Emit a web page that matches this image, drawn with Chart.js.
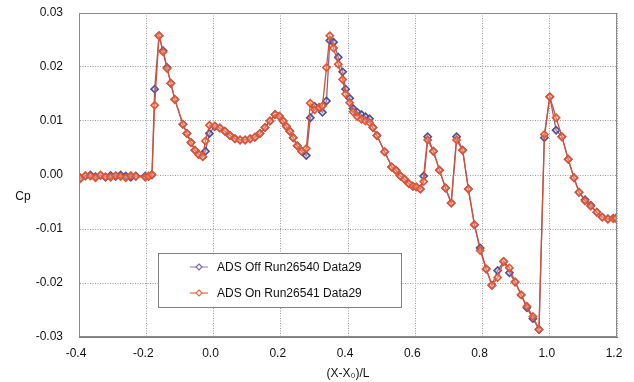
<!DOCTYPE html>
<html>
<head>
<meta charset="utf-8">
<script src="https://cdn.jsdelivr.net/npm/chart.js@4.4.1/dist/chart.umd.min.js"></script>
<style>
html,body{margin:0;padding:0;background:#fff;}
#wrap{width:634px;height:382px;position:relative;}
</style>
</head>
<body>
<div id="wrap"><canvas id="c" width="634" height="382"></canvas></div>
<script>
const xPos = [-0.396,-0.381,-0.366,-0.351,-0.336,-0.321,-0.306,-0.291,-0.276,-0.261,-0.246,-0.231,-0.203,-0.193,-0.183,
 -0.175,-0.162,-0.150,-0.138,-0.127,-0.115,-0.091,-0.079,-0.067,-0.055,-0.044,-0.032,-0.024,-0.012,
 0.004,0.019,0.034,0.049,0.064,0.079,0.094,0.109,0.123,0.138,0.153,0.168,0.183,0.196,0.207,0.217,0.227,0.237,0.249,0.262,
 0.276,0.288,0.301,0.314,0.324,0.336,0.346,0.357,0.371,0.384,0.393,0.405,0.415,0.428,0.440,0.452,0.464,0.474,0.486,0.509,0.530,0.543,
 0.556,0.568,0.581,0.593,0.603,0.615,0.625,0.637,0.654,0.672,0.690,0.707,0.723,0.741,0.758,0.776,0.793,0.811,0.828,0.845,0.863,0.880,0.897,0.915,0.932,0.950,0.968,
 0.984,1.000,1.019,1.036,1.055,1.072,1.087,1.105,1.122,1.140,1.156,1.173,1.189,1.197];

const cpOff = [-0.0005,-0.0002,0.0000,-0.0003,-0.0001,-0.0004,-0.0001,-0.0003,0.0000,-0.0002,-0.0004,-0.0002,-0.0002,-0.0003,0.0000,
 0.0159,0.0258,0.0230,0.0199,0.0170,0.0140,0.0094,0.0077,0.0060,0.0046,0.0038,0.0034,0.0044,0.0077,
 0.0090,0.0087,0.0081,0.0073,0.0067,0.0065,0.0065,0.0067,0.0070,0.0077,0.0088,0.0100,0.0112,0.0109,0.0100,0.0090,0.0081,0.0069,0.0054,0.0044,
 0.0036,0.0106,0.0127,0.0125,0.0116,0.0137,0.0249,0.0246,0.0218,0.0191,0.0159,0.0142,0.0123,0.0116,0.0112,0.0108,0.0104,0.0088,0.0073,0.0043,0.0015,0.0009,
 -0.0002,-0.0008,-0.0016,-0.0021,-0.0022,-0.0026,-0.0002,0.0071,0.0044,0.0009,-0.0024,-0.0052,0.0071,0.0046,-0.0026,-0.0092,-0.0135,-0.0174,-0.0204,-0.0177,-0.0160,-0.0181,-0.0198,-0.0222,-0.0246,-0.0266,-0.0286,
 0.0069,0.0145,0.0083,0.0071,0.0029,-0.0005,-0.0032,-0.0046,-0.0056,-0.0069,-0.0078,-0.0081,-0.0080,-0.0080];

const cpOn = [-0.0007,-0.0001,-0.0002,-0.0005,0.0000,-0.0003,-0.0004,-0.0001,-0.0003,-0.0005,-0.0001,-0.0003,-0.0004,-0.0002,0.0001,
 0.0129,0.0258,0.0228,0.0197,0.0170,0.0140,0.0094,0.0077,0.0060,0.0046,0.0038,0.0034,0.0063,0.0092,
 0.0091,0.0087,0.0081,0.0073,0.0067,0.0065,0.0065,0.0067,0.0070,0.0077,0.0088,0.0100,0.0112,0.0109,0.0100,0.0090,0.0081,0.0069,0.0054,0.0044,
 0.0049,0.0133,0.0121,0.0125,0.0128,0.0199,0.0258,0.0235,0.0205,0.0177,0.0150,0.0134,0.0117,0.0108,0.0103,0.0100,0.0097,0.0088,0.0073,0.0043,0.0015,0.0008,
 -0.0002,-0.0008,-0.0016,-0.0021,-0.0022,-0.0026,-0.0012,0.0065,0.0044,0.0009,-0.0024,-0.0052,0.0065,0.0046,-0.0026,-0.0092,-0.0140,-0.0174,-0.0204,-0.0190,-0.0160,-0.0172,-0.0198,-0.0222,-0.0243,-0.0262,-0.0286,
 0.0075,0.0145,0.0106,0.0071,0.0029,-0.0005,-0.0032,-0.0048,-0.0058,-0.0069,-0.0078,-0.0082,-0.0081,-0.0080];

const seriesNames = ['ADS Off Run26540 Data29', 'ADS On Run26541 Data29'];
const xTickValues = [-0.4,-0.2,0.0,0.2,0.4,0.6,0.8,1.0,1.2];
const yTickValues = [-0.03,-0.02,-0.01,0.00,0.01,0.02,0.03];
const xTitle = '(X-X\u2080)/L';
const yTitle = 'Cp';

const FONT = '"Liberation Sans", Arial, "DejaVu Sans", sans-serif';
const offLine = '#9a5f7a', offMark = '#4f4f92';
const onLine = '#d4503a', onMark = '#e2552f';
const legOffLine = '#a58ab5', legOnLine = '#ee6a45';

function pts(ys){ return xPos.map((x,i)=>({x:x,y:ys[i]})); }

const frame = {
  id:'frame',
  afterDatasetsDraw(chart){
    const {ctx, chartArea:a} = chart;
    ctx.save();
    ctx.strokeStyle = '#8a8a8a';
    ctx.lineWidth = 1;
    ctx.strokeRect(Math.round(a.left)+0.5, Math.round(a.top)+0.5, Math.round(a.right-a.left)-1, Math.round(a.bottom-a.top)-1);
    ctx.restore();
  },
  afterDraw(chart){
    const ctx = chart.ctx;
    ctx.save();
    ctx.fillStyle = '#111';
    ctx.font = '12px ' + FONT;
    ctx.textAlign = 'center';
    ctx.textBaseline = 'middle';
    ctx.fillText(yTitle, 23, 197);
    const bx=158, by=253, bw=243, bh=54;
    ctx.fillStyle = '#fff';
    ctx.fillRect(bx, by, bw, bh);
    ctx.strokeStyle = '#808080';
    ctx.lineWidth = 1;
    ctx.strokeRect(bx+0.5, by+0.5, bw, bh);
    const rows = [{y:267, line:legOffLine, mark:'#7a6aa6'},{y:293, line:legOnLine, mark:'#ee6a45'}];
    rows.forEach((r,i)=>{
      ctx.strokeStyle = r.line;
      ctx.lineWidth = 1.2;
      ctx.beginPath(); ctx.moveTo(190, r.y); ctx.lineTo(208, r.y); ctx.stroke();
      ctx.strokeStyle = r.mark;
      ctx.fillStyle = '#fff';
      ctx.lineWidth = 1.2;
      ctx.beginPath();
      ctx.moveTo(199, r.y-3); ctx.lineTo(202, r.y); ctx.lineTo(199, r.y+3); ctx.lineTo(196, r.y); ctx.closePath();
      ctx.fill(); ctx.stroke();
      ctx.fillStyle = '#111';
      ctx.font = '12px ' + FONT;
      ctx.textAlign = 'left';
      ctx.textBaseline = 'middle';
      ctx.fillText(seriesNames[i], 217, r.y+0.5);
    });
    ctx.restore();
  }
};

new Chart(document.getElementById('c'), {
  type: 'scatter',
  data: {
    datasets: [
      { label: seriesNames[1], data: pts(cpOn), showLine: true,
        borderColor: onLine, borderWidth: 1.3, pointStyle: 'rectRot', pointRadius: 3.6,
        pointBorderColor: onMark, pointBackgroundColor: 'rgba(235,185,175,0.45)', pointBorderWidth: 1.6 },
      { label: seriesNames[0], data: pts(cpOff), showLine: true,
        borderColor: offLine, borderWidth: 1.3, pointStyle: 'rectRot', pointRadius: 3.6,
        pointBorderColor: offMark, pointBackgroundColor: 'rgba(200,180,210,0.45)', pointBorderWidth: 1.6 }
    ]
  },
  options: {
    responsive: false,
    animation: false,
    events: [],
    layout: { padding: { left: 0, right: 17, top: 13, bottom: 0 } },
    plugins: { legend: { display: false }, tooltip: { enabled: false } },
    scales: {
      x: {
        type: 'linear', min: -0.4, max: 1.2,
        afterBuildTicks(s){ s.ticks = xTickValues.map(v=>({value:v})); },
        afterFit(s){ s.height = 45; s.paddingLeft = 0; s.paddingRight = 0; },
        grid: { color: '#9a9a9a', lineWidth: 1, drawTicks: false },
        border: { display: true, color: '#7a7a7a', width: 1, dash: [1,1.5] },
        ticks: { color: '#111', font: { family: FONT, size: 12 }, padding: 9, maxRotation: 0, labelOffset: -3,
                 callback: v => Number(v).toFixed(1) },
        title: { display: true, text: xTitle, color: '#111', font: { family: FONT, size: 12 }, padding: { top: 0, bottom: 1 } }
      },
      y: {
        type: 'linear', min: -0.03, max: 0.03,
        afterBuildTicks(s){ s.ticks = yTickValues.map(v=>({value:v})); },
        afterFit(s){ s.width = 79; s.paddingTop = 0; s.paddingBottom = 0; },
        grid: { color: '#9a9a9a', lineWidth: 1, drawTicks: false },
        border: { display: true, color: '#7a7a7a', width: 1, dash: [1,1.5] },
        ticks: { color: '#111', font: { family: FONT, size: 12 }, padding: 16,
                 callback: v => Number(v).toFixed(2) }
      }
    }
  },
  plugins: [frame]
});
</script>
</body>
</html>
